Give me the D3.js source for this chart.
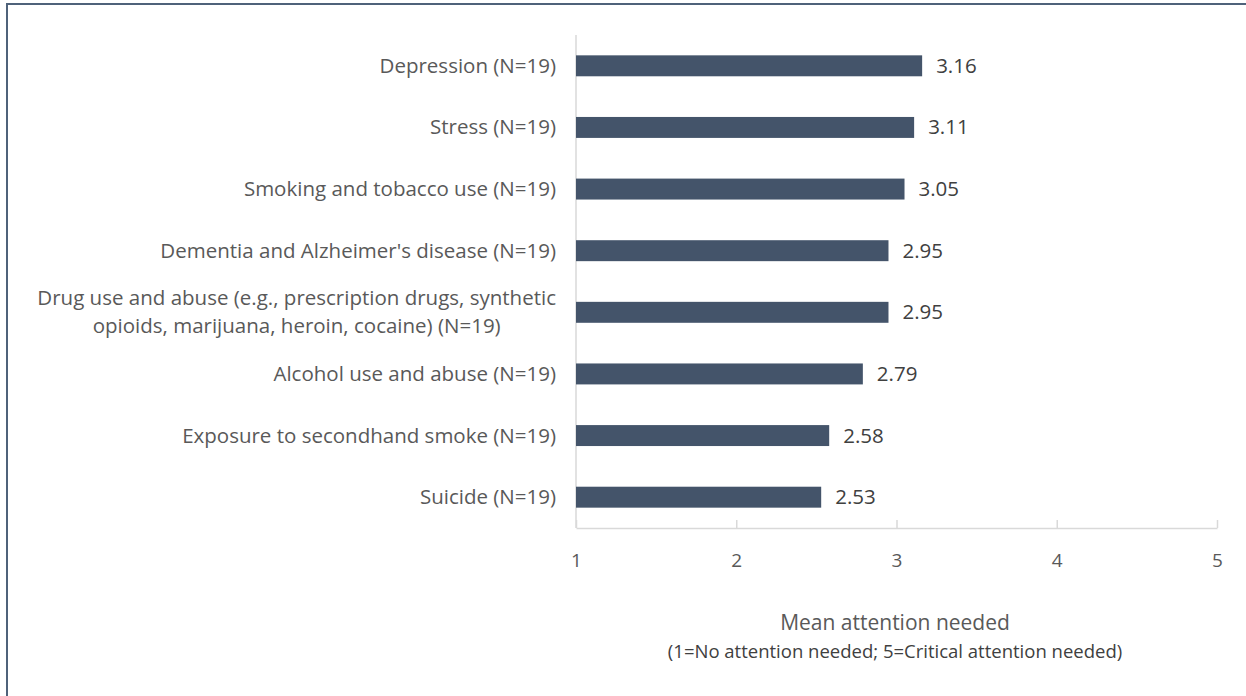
<!DOCTYPE html>
<html><head><meta charset="utf-8">
<script src="https://cdn.jsdelivr.net/npm/d3@7"></script>
<style>body{margin:0;background:#fff;}svg{display:block;}</style>
</head><body>
<svg id="c" width="1246" height="696"></svg>
<script>
const categories = [
  ["Depression (N=19)"],
  ["Stress (N=19)"],
  ["Smoking and tobacco use (N=19)"],
  ["Dementia and Alzheimer's disease (N=19)"],
  ["Drug use and abuse (e.g., prescription drugs, synthetic", "opioids, marijuana, heroin, cocaine) (N=19)"],
  ["Alcohol use and abuse (N=19)"],
  ["Exposure to secondhand smoke (N=19)"],
  ["Suicide (N=19)"]
];
const values = [3.16, 3.11, 3.05, 2.95, 2.95, 2.79, 2.58, 2.53];
const valueLabels = ["3.16", "3.11", "3.05", "2.95", "2.95", "2.79", "2.58", "2.53"];
const tickValues = [1, 2, 3, 4, 5];
const axisTitle = "Mean attention needed";
const axisSubtitle = "(1=No attention needed; 5=Critical attention needed)";

const font = "Open Sans, sans-serif";
const svg = d3.select("#c");
svg.append("rect").attr("x", 7).attr("y", 4).attr("width", 1300).attr("height", 800)
  .attr("fill", "#fff").attr("stroke", "#4f627a").attr("stroke-width", 2);

const x = d3.scaleLinear().domain([1, 5]).range([576, 1217]);
const idx = d3.range(categories.length);
const y = d3.scaleBand().domain(idx).range([35, 528]).paddingInner(0.66).paddingOuter(0.33);

// vertical axis line
svg.append("line").attr("x1", x(1)).attr("x2", x(1)).attr("y1", 35).attr("y2", 528)
  .attr("stroke", "#d9d9d9").attr("stroke-width", 1.5);

// bottom axis
const axis = d3.axisBottom(x).tickValues(tickValues).tickSize(0).tickFormat(d3.format("d"));
const g = svg.append("g").attr("transform", "translate(0,528)").call(axis);
g.select(".domain").attr("stroke", "#d9d9d9").attr("stroke-width", 1.5);
g.selectAll(".tick text").attr("dy", 0).attr("y", 39).attr("font-family", font).attr("font-size", 19).attr("fill", "#595959");
g.selectAll(".tick").append("line").attr("y1", 0).attr("y2", -8).attr("stroke", "#d9d9d9").attr("stroke-width", 1.5);

// bars
svg.selectAll("rect.bar").data(idx).enter().append("rect").attr("class", "bar")
  .attr("x", x(1)).attr("y", i => y(i)).attr("width", i => x(values[i]) - x(1)).attr("height", y.bandwidth())
  .attr("fill", "#44546a");

// value labels
svg.selectAll("text.val").data(idx).enter().append("text").attr("class", "val")
  .attr("x", i => x(values[i]) + 14).attr("y", i => y(i) + y.bandwidth() / 2 + 7)
  .attr("font-family", font).attr("font-size", 20.5).attr("fill", "#404040")
  .text(i => valueLabels[i]);

// category labels
const lh = 28;
const cl = svg.selectAll("text.cat").data(idx).enter().append("text").attr("class", "cat")
  .attr("text-anchor", "end").attr("font-family", font).attr("font-size", 20.5).attr("fill", "#595959")
  .attr("y", i => y(i) + y.bandwidth() / 2 + 7 - (categories[i].length - 1) * lh / 2);
cl.each(function(i) {
  const t = d3.select(this);
  categories[i].forEach((line, k) => {
    t.append("tspan").attr("x", 556).attr("dy", k === 0 ? 0 : lh).text(line);
  });
});
// centre multi-line labels on the widest line
cl.filter(i => categories[i].length > 1).each(function(i) {
  const t = d3.select(this);
  const w0 = d3.max(t.selectAll("tspan").nodes(), n => n.getComputedTextLength());
  t.attr("text-anchor", "middle");
  t.selectAll("tspan").attr("x", 556 - w0 / 2);
});

svg.append("text").attr("x", 895).attr("y", 630).attr("text-anchor", "middle")
  .attr("font-family", font).attr("font-size", 21).attr("fill", "#595959").text(axisTitle);
svg.append("text").attr("x", 895).attr("y", 658).attr("text-anchor", "middle")
  .attr("font-family", font).attr("font-size", 18.5).attr("fill", "#404040").text(axisSubtitle);
</script>
</body></html>
